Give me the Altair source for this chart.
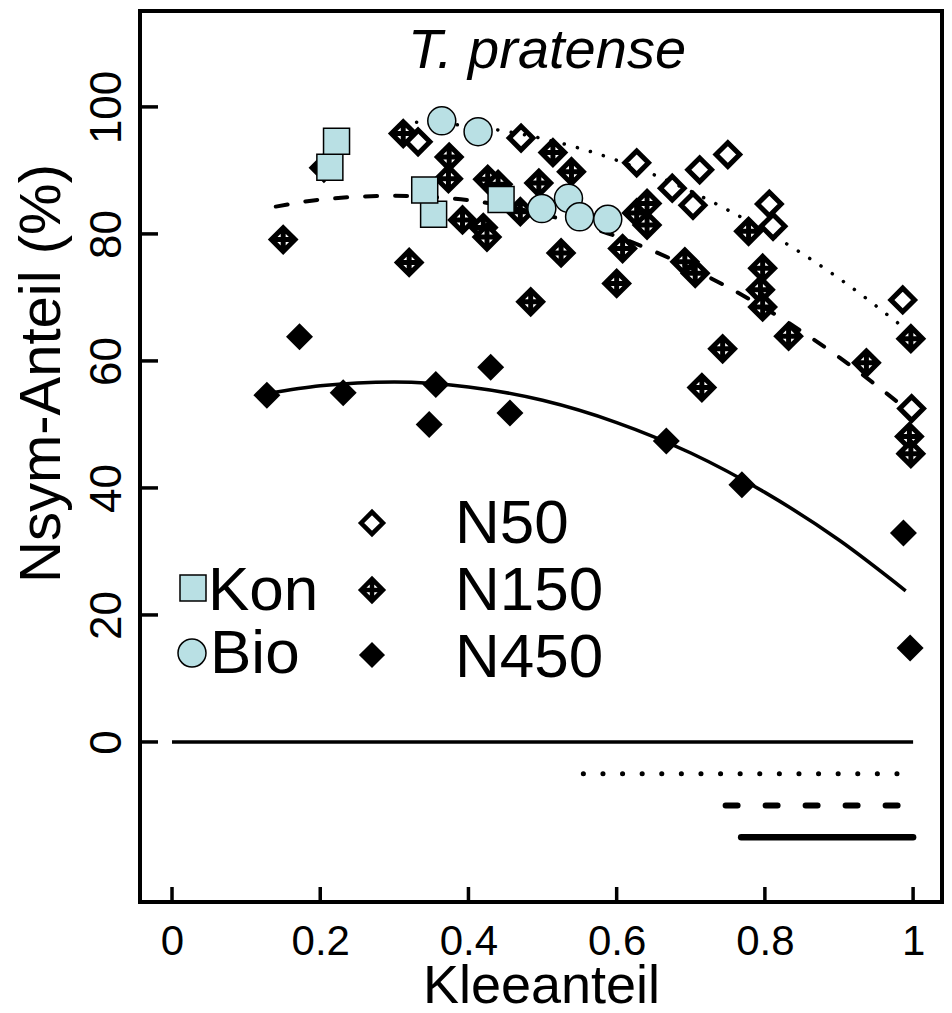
import altair as alt
import pandas as pd

# ---------------- data ----------------
n50_x = [0.332, 0.471, 0.627, 0.675, 0.703, 0.712, 0.750, 0.806, 0.811, 0.986, 0.998]
n50_y = [94.5, 95.1, 91.2, 87.2, 84.5, 90.1, 92.5, 84.7, 81.2, 69.6, 52.5]

n150_x = [0.150, 0.205, 0.312, 0.320, 0.373, 0.374, 0.392, 0.420, 0.425, 0.426, 0.440,
          0.470, 0.484, 0.495, 0.514, 0.525, 0.539, 0.600, 0.608, 0.627, 0.641, 0.641,
          0.692, 0.706, 0.715, 0.743, 0.778, 0.794, 0.797, 0.797, 0.832, 0.937, 0.995,
          0.997, 0.997]
n150_y = [79.1, 90.4, 95.8, 75.5, 88.7, 92.1, 82.2, 81.0, 79.5, 88.6, 87.8,
          83.5, 69.3, 88.0, 92.8, 77.0, 89.8, 72.2, 77.7, 83.3, 84.8, 81.4,
          75.6, 73.8, 55.8, 61.9, 80.4, 71.2, 74.6, 68.5, 63.9, 59.7, 48.1,
          63.5, 45.4]

n450_x = [0.128, 0.172, 0.231, 0.347, 0.356, 0.430, 0.456, 0.667, 0.769, 0.987, 0.996]
n450_y = [54.6, 63.8, 55.0, 50.0, 56.3, 59.0, 51.8, 47.4, 40.5, 32.9, 14.8]

kon_x = [0.213, 0.222, 0.353, 0.341, 0.444]
kon_y = [90.5, 94.6, 83.1, 86.9, 85.4]

bio_x = [0.364, 0.413, 0.499, 0.535, 0.550, 0.588]
bio_y = [97.8, 96.1, 84.0, 85.6, 82.7, 82.3]

# fitted curves
fit50_x = [0.33, 0.40, 0.50, 0.60, 0.70, 0.80, 0.90, 0.99]
fit50_y = [97.6, 97.0, 95.0, 91.6, 86.7, 80.5, 73.0, 65.0]
fit150_x = [0.14, 0.20, 0.30, 0.40, 0.50, 0.60, 0.70, 0.80, 0.90, 0.99]
fit150_y = [84.3, 85.4, 86.0, 85.3, 83.1, 79.6, 74.6, 68.3, 60.6, 52.5]
fit450_x = [0.13, 0.20, 0.30, 0.40, 0.50, 0.60, 0.70, 0.80, 0.90, 0.99]
fit450_y = [54.9, 56.1, 56.7, 55.9, 53.8, 50.3, 45.5, 39.3, 31.8, 23.8]

# zero line and range bars below zero
zero_x = [0.0, 1.0]
range_start = [0.555, 0.747, 0.768]
range_end = [1.0, 1.0, 1.0]
range_y = [-5, -10, -15]

x_ticks = [0, 0.2, 0.4, 0.6, 0.8, 1.0]
y_ticks = [0, 20, 40, 60, 80, 100]

legend_a = ["Kon", "Bio"]
legend_b = ["N50", "N150", "N450"]
title_text = "T. pratense"

# ---------------- styling ----------------
FONT = "Liberation Sans, Arial, Helvetica, sans-serif"
W, H = 802, 891
BLUE = "#b9e0e4"
xs = alt.Scale(domain=[-0.0432, 1.039], nice=False, zero=False)
ys = alt.Scale(domain=[-25.2, 115.1], nice=False, zero=False)

xaxis = alt.Axis(values=x_ticks, format=".1~f", title="Kleeanteil", ticks=False, tickSize=0,
                 domain=False, grid=False, labelFont=FONT, labelFontSize=42, labelPadding=19,
                 labelColor="black", labelFlush=False, labelOverlap=False,
                 titleFont=FONT, titleFontSize=54, titleFontWeight="normal", titleColor="black",
                 titleBaseline="alphabetic", titleY=100)
yaxis = alt.Axis(values=y_ticks, format="d", title="Nsym-Anteil (%)", ticks=False, tickSize=0,
                 domain=False, grid=False, labelFont=FONT, labelFontSize=44, labelPadding=20,
                 labelColor="black", labelFlush=False, labelOverlap=False, labelAngle=270,
                 labelAlign="center", labelBaseline="alphabetic",
                 titleFont=FONT, titleFontSize=58, titleFontWeight="normal", titleColor="black",
                 titleAngle=270, titleAlign="center", titleBaseline="alphabetic",
                 titleX=-81, titleY=362)


def X(f):
    return alt.X(f, type="quantitative", scale=xs, axis=xaxis)


def Y(f):
    return alt.Y(f, type="quantitative", scale=ys, axis=yaxis)


CROSS_DIAMOND = "M-1,0L0,-1L1,0L0,1Z M-1,0L1,0 M0,-1L0,1"

# ---------------- layers ----------------
xt = alt.Chart(pd.DataFrame({"t": x_ticks})).mark_rule(color="black", strokeWidth=3.5).encode(
    x=X("t"), y=alt.value(H), y2=alt.value(H - 15))
yt = alt.Chart(pd.DataFrame({"t": y_ticks})).mark_rule(color="black", strokeWidth=3.5).encode(
    y=Y("t"), x=alt.value(0), x2=alt.value(18))

zero = alt.Chart(pd.DataFrame({"x": zero_x, "y": [0, 0]})).mark_line(
    color="black", strokeWidth=3.5).encode(x=X("x"), y=Y("y"))

rng = pd.DataFrame({"x1": range_start, "x2": range_end, "y": range_y})
r_dot = alt.Chart(rng.iloc[[0]]).mark_rule(color="black", strokeWidth=5, strokeCap="round",
                                           strokeDash=[0.1, 19.5]).encode(
    x=X("x1"), x2="x2", y=Y("y"))
r_dash = alt.Chart(rng.iloc[[1]]).mark_rule(color="black", strokeWidth=6, strokeCap="round",
                                            strokeDash=[12, 28]).encode(
    x=X("x1"), x2="x2", y=Y("y"))
r_solid = alt.Chart(rng.iloc[[2]]).mark_rule(color="black", strokeWidth=6.5, strokeCap="round").encode(
    x=X("x1"), x2="x2", y=Y("y"))

p50 = alt.Chart(pd.DataFrame({"x": n50_x, "y": n50_y})).mark_point(
    shape="diamond", size=560, fill="white", stroke="black", strokeWidth=5,
    opacity=1, fillOpacity=1, filled=False).encode(x=X("x"), y=Y("y"))
p150 = alt.Chart(pd.DataFrame({"x": n150_x, "y": n150_y})).mark_point(
    shape=CROSS_DIAMOND, size=560, fill="white", stroke="black", strokeWidth=5,
    opacity=1, fillOpacity=1, filled=False).encode(x=X("x"), y=Y("y"))
p450 = alt.Chart(pd.DataFrame({"x": n450_x, "y": n450_y})).mark_point(
    shape="diamond", size=729, fill="black", strokeWidth=0, opacity=1, filled=True,
    color="black").encode(x=X("x"), y=Y("y"))

l50 = alt.Chart(pd.DataFrame({"x": fit50_x, "y": fit50_y})).mark_line(
    color="black", strokeWidth=3.5, strokeCap="round", strokeDash=[0.1, 13.5],
    interpolate="monotone").encode(x=X("x"), y=Y("y"))
l150 = alt.Chart(pd.DataFrame({"x": fit150_x, "y": fit150_y})).mark_line(
    color="black", strokeWidth=4, strokeCap="round", strokeDash=[12, 18],
    interpolate="monotone").encode(x=X("x"), y=Y("y"))
l450 = alt.Chart(pd.DataFrame({"x": fit450_x, "y": fit450_y})).mark_line(
    color="black", strokeWidth=3.5, interpolate="monotone").encode(x=X("x"), y=Y("y"))

pkon = alt.Chart(pd.DataFrame({"x": kon_x, "y": kon_y})).mark_point(
    shape="square", size=676, fill=BLUE, stroke="black", strokeWidth=1.5,
    opacity=1, fillOpacity=1, filled=False).encode(x=X("x"), y=Y("y"))
pbio = alt.Chart(pd.DataFrame({"x": bio_x, "y": bio_y})).mark_point(
    shape="circle", size=784, fill=BLUE, stroke="black", strokeWidth=1.5,
    opacity=1, fillOpacity=1, filled=False).encode(x=X("x"), y=Y("y"))


# ---------------- manual legend ----------------
def legend_text(label, px, py):
    return alt.Chart(pd.DataFrame({"lab": [label]})).mark_text(
        align="left", baseline="alphabetic", font=FONT, fontSize=62, color="black").encode(
        x=alt.value(px), y=alt.value(py), text="lab:N")


def legend_symbol(label, px, py, **kw):
    return alt.Chart(pd.DataFrame({"lab": [label]})).mark_point(
        opacity=1, fillOpacity=1, **kw).encode(x=alt.value(px), y=alt.value(py))


leg = [
    legend_symbol(legend_a[0], 53, 577, shape="square", size=676, fill=BLUE, stroke="black",
                  strokeWidth=1.5, filled=False),
    legend_text(legend_a[0], 68, 599),
    legend_symbol(legend_a[1], 52, 642, shape="circle", size=784, fill=BLUE, stroke="black",
                  strokeWidth=1.5, filled=False),
    legend_text(legend_a[1], 70, 662),
    legend_symbol(legend_b[0], 232, 512, shape="diamond", size=480, fill="white", stroke="black",
                  strokeWidth=4.5, filled=False),
    legend_text(legend_b[0], 315, 532),
    legend_symbol(legend_b[1], 232, 579, shape=CROSS_DIAMOND, size=480, fill="white",
                  stroke="black", strokeWidth=4.5, filled=False),
    legend_text(legend_b[1], 315, 599),
    legend_symbol(legend_b[2], 232, 644, shape="diamond", size=680, fill="black",
                  strokeWidth=0, filled=True, color="black"),
    legend_text(legend_b[2], 315, 666),
]

title = alt.Chart(pd.DataFrame({"t": [title_text]})).mark_text(
    align="center", baseline="alphabetic", font=FONT, fontSize=56, fontStyle="italic",
    color="black").encode(x=alt.value(407), y=alt.value(57), text="t:N")

chart = alt.layer(
    xt, yt, zero, r_dot, r_dash, r_solid,
    p50, p150, p450, l50, l150, l450, pkon, pbio,
    *leg, title
).properties(
    width=W, height=H,
    autosize=alt.AutoSizeParams(type="none"),
    padding={"left": 132, "top": 3, "right": 2, "bottom": 103},
    background="white",
).configure_view(
    stroke="black", strokeWidth=4
)

chart.save("out.html", embed_options={"renderer": "svg", "actions": False})
